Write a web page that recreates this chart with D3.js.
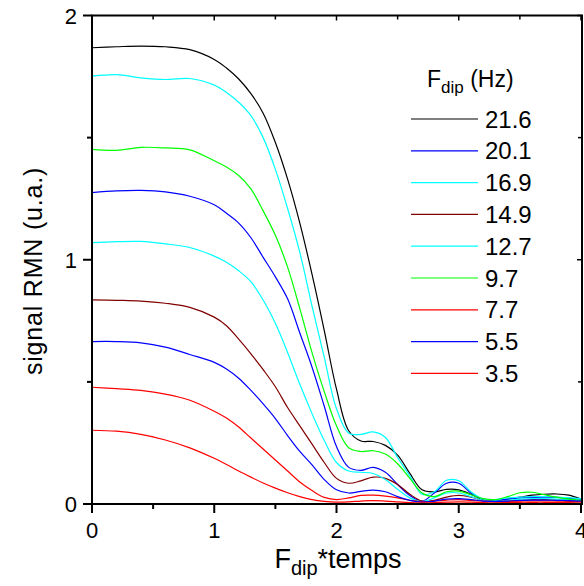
<!DOCTYPE html>
<html><head><meta charset="utf-8">
<script src="https://cdn.jsdelivr.net/npm/d3@7"></script>
<style>
html,body{margin:0;padding:0;background:#fff;}
svg{display:block;font-family:"Liberation Sans",Arial,sans-serif;}
</style></head>
<body>
<svg id="chart" width="584" height="586"></svg>
<script>
const xs = [0,0.2,0.4,0.6,0.8,1.0,1.1,1.2,1.3,1.4,1.5,1.6,1.7,1.8,1.9,2.0,2.1,2.2,2.3,2.4,2.5,2.6,2.7,2.8,2.9,3.0,3.1,3.2,3.3,3.4,3.5,3.6,3.7,3.8,3.9,4.0];

const s216 = [1.868,1.872,1.875,1.872,1.86,1.82,1.785,1.74,1.68,1.60,1.48,1.33,1.15,0.94,0.71,0.47,0.30,0.258,0.256,0.24,0.20,0.125,0.058,0.05,0.06,0.058,0.04,0.018,0.012,0.02,0.028,0.036,0.04,0.041,0.036,0.02];
const s201 = [1.275,1.282,1.284,1.278,1.26,1.225,1.19,1.15,1.09,1.01,0.93,0.84,0.70,0.56,0.40,0.235,0.15,0.138,0.15,0.13,0.08,0.035,0.012,0.045,0.085,0.085,0.045,0.02,0.015,0.02,0.025,0.027,0.028,0.027,0.024,0.02];
const s169 = [1.752,1.758,1.745,1.738,1.742,1.715,1.685,1.645,1.59,1.50,1.37,1.21,1.03,0.81,0.60,0.39,0.29,0.285,0.295,0.272,0.19,0.115,0.04,0.05,0.097,0.095,0.05,0.02,0.018,0.025,0.028,0.03,0.03,0.028,0.026,0.022];
const s149 = [0.836,0.834,0.831,0.822,0.805,0.765,0.73,0.675,0.615,0.55,0.48,0.395,0.32,0.245,0.17,0.105,0.085,0.095,0.11,0.105,0.08,0.04,0.012,0.015,0.028,0.035,0.028,0.015,0.01,0.012,0.015,0.018,0.018,0.016,0.014,0.012];
const s127 = [1.07,1.074,1.075,1.065,1.05,1.015,0.99,0.955,0.91,0.835,0.74,0.62,0.49,0.37,0.26,0.17,0.135,0.13,0.125,0.10,0.06,0.025,0.01,0.025,0.045,0.045,0.03,0.015,0.012,0.015,0.02,0.022,0.022,0.02,0.018,0.015];
const s97 = [1.452,1.448,1.46,1.458,1.45,1.405,1.38,1.345,1.29,1.20,1.10,0.97,0.80,0.62,0.46,0.32,0.23,0.215,0.218,0.205,0.165,0.105,0.045,0.03,0.05,0.053,0.038,0.022,0.018,0.03,0.046,0.048,0.038,0.028,0.02,0.015];
const s77 = [0.478,0.472,0.465,0.45,0.425,0.38,0.352,0.315,0.27,0.225,0.18,0.135,0.09,0.055,0.027,0.018,0.025,0.035,0.036,0.032,0.025,0.015,0.01,0.012,0.016,0.018,0.015,0.012,0.01,0.011,0.012,0.013,0.013,0.012,0.011,0.01];
const s55 = [0.665,0.665,0.66,0.642,0.612,0.58,0.553,0.515,0.465,0.41,0.35,0.28,0.215,0.16,0.10,0.058,0.045,0.052,0.057,0.05,0.03,0.015,0.008,0.012,0.02,0.022,0.018,0.012,0.01,0.012,0.015,0.016,0.016,0.015,0.014,0.012];
const s35 = [0.302,0.298,0.285,0.262,0.23,0.187,0.162,0.135,0.11,0.086,0.065,0.046,0.03,0.018,0.011,0.008,0.009,0.012,0.014,0.012,0.009,0.006,0.005,0.006,0.008,0.009,0.008,0.006,0.005,0.006,0.007,0.007,0.007,0.006,0.006,0.005];

const seriesLabels = ["21.6","20.1","16.9","14.9","12.7","9.7","7.7","5.5","3.5"];
const seriesValues = [s216,s201,s169,s149,s127,s97,s77,s55,s35];
const seriesColors = ["#000000","#0000ff","#00ffff","#800000","#00ffff","#00ff00","#ff0000","#0000ff","#ff0000"];
const xTicks = [0,1,2,3,4];
const yTicks = [0,1,2];

const svg = d3.select("#chart");
const x = d3.scaleLinear().domain([0,4]).range([92,581]);
const y = d3.scaleLinear().domain([0,2]).range([504,15.5]);

const line = d3.line().x((d,i)=>x(xs[i])).y(d=>y(d)).curve(d3.curveCatmullRom.alpha(0.5));
const plot = svg.append("g");
seriesValues.forEach((vals,k)=>{
  plot.append("path").attr("d", line(vals)).attr("fill","none")
    .attr("stroke", seriesColors[k]).attr("stroke-width",1.2);
});

const ax = svg.append("g").attr("stroke","#000").attr("fill","none");
const minorX = d3.range(0.5,4,1);
const minorY = d3.range(0.5,2,1);
ax.append("rect").attr("x",x(0)).attr("y",y(2)).attr("width",x(4)-x(0)+1).attr("height",y(0)-y(2))
  .attr("stroke-width",2);
xTicks.forEach(t=>ax.append("line").attr("x1",x(t)).attr("x2",x(t)).attr("y1",y(0)).attr("y2",y(0)+9).attr("stroke-width",2));
minorX.forEach(t=>ax.append("line").attr("x1",x(t)).attr("x2",x(t)).attr("y1",y(0)).attr("y2",y(0)+5).attr("stroke-width",2));
xTicks.forEach(t=>ax.append("line").attr("x1",x(t)).attr("x2",x(t)).attr("y1",y(2)).attr("y2",y(2)+5).attr("stroke-width",1.5));
minorX.forEach(t=>ax.append("line").attr("x1",x(t)).attr("x2",x(t)).attr("y1",y(2)).attr("y2",y(2)+4).attr("stroke-width",1.5));
yTicks.forEach(t=>ax.append("line").attr("x1",x(0)-9).attr("x2",x(0)).attr("y1",y(t)).attr("y2",y(t)).attr("stroke-width",2));
minorY.forEach(t=>ax.append("line").attr("x1",x(0)-5).attr("x2",x(0)).attr("y1",y(t)).attr("y2",y(t)).attr("stroke-width",2));
yTicks.forEach(t=>ax.append("line").attr("x1",x(4)+1).attr("x2",x(4)-4).attr("y1",y(t)).attr("y2",y(t)).attr("stroke-width",1.5));
minorY.forEach(t=>ax.append("line").attr("x1",x(4)+1).attr("x2",x(4)-3).attr("y1",y(t)).attr("y2",y(t)).attr("stroke-width",1.5));

const fs = 22;
svg.append("g").selectAll("text").data(xTicks).join("text")
  .attr("x",d=>x(d)).attr("y",538).attr("text-anchor","middle").attr("font-size",fs).text(d=>d);
svg.append("g").selectAll("text").data(yTicks).join("text")
  .attr("x",77).attr("y",d=>y(d)+8).attr("text-anchor","end").attr("font-size",fs).text(d=>d);

const xt = svg.append("text").attr("x",338).attr("y",568).attr("text-anchor","middle").attr("font-size",27);
xt.append("tspan").text("F");
xt.append("tspan").attr("font-size",20).attr("dy",7).text("dip");
xt.append("tspan").attr("dy",-7).text("*temps");

svg.append("text").attr("transform","translate(42,271) rotate(-90)").attr("text-anchor","middle")
  .attr("font-size",25).attr("letter-spacing",0.8).text("signal RMN (u.a.)");

const lt = svg.append("text").attr("x",427).attr("y",87).attr("font-size",23);
lt.append("tspan").text("F");
lt.append("tspan").attr("font-size",17).attr("dy",6).text("dip");
lt.append("tspan").attr("dy",-6).text(" (Hz)");
const lg = svg.append("g");
seriesLabels.forEach((lab,k)=>{
  const yy = 119 + k*31.8;
  lg.append("line").attr("x1",411).attr("x2",478).attr("y1",yy).attr("y2",yy)
    .attr("stroke",seriesColors[k]).attr("stroke-width",1.2);
  lg.append("text").attr("x",485).attr("y",yy+8.5).attr("font-size",24).text(lab);
});
</script>
</body></html>
